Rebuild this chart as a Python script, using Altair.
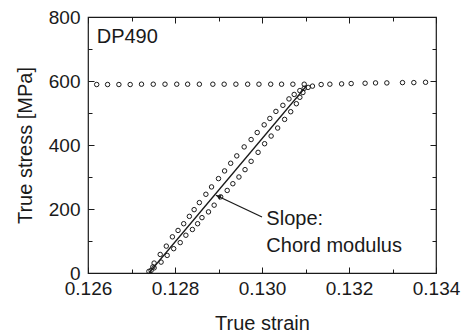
import altair as alt
import pandas as pd

# ---------------- data ----------------
flow_strain = [0.12620, 0.12645, 0.12671, 0.12697, 0.12723, 0.12750, 0.12777,
               0.12804, 0.12829, 0.12856, 0.12887, 0.12913, 0.12940, 0.12967,
               0.12993, 0.13020, 0.13045, 0.13071, 0.13097, 0.13116, 0.13136,
               0.13156, 0.13183, 0.13205, 0.13237, 0.13261, 0.13287, 0.13323,
               0.13349, 0.13376]
flow_stress = [589, 589, 589, 589, 590, 590, 590,
               590, 590, 590, 590, 590, 590, 590,
               590, 590, 590, 590, 590, 584, 589,
               590, 591, 592, 593, 594, 594, 595,
               595, 596]

upper_strain = [0.12740, 0.12749, 0.12752, 0.12766, 0.12780, 0.12794, 0.12807,
                0.12820, 0.12833, 0.12844, 0.12856, 0.12871, 0.12884, 0.12900,
                0.12914, 0.12928, 0.12942, 0.12959, 0.12975, 0.12989, 0.13005,
                0.13018, 0.13032, 0.13048, 0.13062, 0.13074, 0.13087, 0.13097]
upper_stress = [5, 19, 31, 58, 84, 113, 133,
                154, 177, 198, 220, 246, 269, 295,
                319, 343, 366, 394, 417, 439, 463,
                483, 505, 524, 544, 558, 570, 577]

lower_strain = [0.12745, 0.12752, 0.12768, 0.12782, 0.12797, 0.12812, 0.12825,
                0.12840, 0.12852, 0.12862, 0.12877, 0.12890, 0.12905, 0.12920,
                0.12933, 0.12947, 0.12961, 0.12975, 0.12991, 0.13006, 0.13021,
                0.13036, 0.13052, 0.13066, 0.13079, 0.13087, 0.13094, 0.13106]
lower_stress = [8, 16, 34, 55, 76, 95, 118,
                136, 154, 173, 191, 212, 238, 258,
                279, 300, 323, 349, 377, 404, 428,
                453, 480, 504, 529, 549, 564, 580]

chord_strain = [0.12740, 0.13103]
chord_stress = [0, 586]

x_major = [0.126, 0.128, 0.130, 0.132, 0.134]
x_minor = [0.127, 0.129, 0.131, 0.133]
y_major = [0, 200, 400, 600, 800]
y_minor = [100, 300, 500, 700]

label_texts = ["DP490", "Slope:", "Chord modulus"]
label_strain = [0.12620, 0.13010, 0.13010]
label_stress = [719, 149, 66]

arrow_tail = (0.13000, 175)
arrow_head = (0.12894, 243)
arrow_head_center = (0.12900, 239)

# ---------------- build tables ----------------
pts = pd.concat([
    pd.DataFrame({"strain": flow_strain, "stress": flow_stress}),
    pd.DataFrame({"strain": upper_strain, "stress": upper_stress}),
    pd.DataFrame({"strain": lower_strain, "stress": lower_stress}),
], ignore_index=True)
chord = pd.DataFrame({"strain": chord_strain, "stress": chord_stress})
labels = pd.DataFrame({"strain": label_strain, "stress": label_stress, "text": label_texts})
arrow = pd.DataFrame({"strain": [arrow_tail[0]], "stress": [arrow_tail[1]],
                      "strain2": [arrow_head[0]], "stress2": [arrow_head[1]]})
head = pd.DataFrame({"strain": [arrow_head_center[0]], "stress": [arrow_head_center[1]]})

FONT = "Liberation Sans"
INK = "#1a1a1a"
xs = alt.Scale(domain=[0.126, 0.134], nice=False, zero=False)
ys = alt.Scale(domain=[0, 800], nice=False, zero=False)

main = alt.Chart(pts).mark_point(
    shape="circle", filled=False, size=20, stroke=INK, strokeWidth=1, opacity=1
).encode(
    x=alt.X("strain:Q", scale=xs, axis=alt.Axis(
        orient="bottom", values=x_major, format=".3f", ticks=False, domain=False,
        grid=False, labelPadding=6, labelFontSize=19, labelFont=FONT, labelColor=INK,
        title="True strain", titleFontSize=20, titleFont=FONT, titleFontWeight="normal",
        titleColor=INK, titlePadding=15, labelFlush=False)),
    y=alt.Y("stress:Q", scale=ys, axis=alt.Axis(
        orient="left", values=y_major, format="d", ticks=False, domain=False,
        grid=False, labelPadding=8, labelFontSize=19, labelFont=FONT, labelColor=INK,
        title="True stress [MPa]", titleFontSize=20, titleFont=FONT,
        titleFontWeight="normal", titleColor=INK, titlePadding=13, labelFlush=False)),
)


def tick_layer(xorient, yorient, xvals, yvals, size):
    return alt.Chart(pts).mark_point(opacity=0, size=1).encode(
        x=alt.X("strain:Q", scale=xs, axis=alt.Axis(
            orient=xorient, values=xvals, offset=-size, tickSize=size, labels=False,
            domain=False, grid=False, title=None, tickColor=INK, tickWidth=1)),
        y=alt.Y("stress:Q", scale=ys, axis=alt.Axis(
            orient=yorient, values=yvals, offset=-size, tickSize=size, labels=False,
            domain=False, grid=False, title=None, tickColor=INK, tickWidth=1)),
    )


t1 = tick_layer("bottom", "left", x_major, y_major, 6)
t2 = tick_layer("bottom", "left", x_minor, y_minor, 4)
t3 = tick_layer("top", "right", x_major, y_major, 6)
t4 = tick_layer("top", "right", x_minor, y_minor, 4)

line = alt.Chart(chord).mark_line(color=INK, strokeWidth=1.3).encode(
    x=alt.X("strain:Q", scale=xs, axis=None),
    y=alt.Y("stress:Q", scale=ys, axis=None),
)

arr = alt.Chart(arrow).mark_rule(color=INK, strokeWidth=1.3).encode(
    x=alt.X("strain:Q", scale=xs, axis=None),
    y=alt.Y("stress:Q", scale=ys, axis=None),
    x2="strain2:Q", y2="stress2:Q",
)

arr_head = alt.Chart(head).mark_point(
    shape="triangle-up", filled=True, size=28, color=INK, angle=295, opacity=1
).encode(
    x=alt.X("strain:Q", scale=xs, axis=None),
    y=alt.Y("stress:Q", scale=ys, axis=None),
)

txt = alt.Chart(labels).mark_text(
    align="left", baseline="alphabetic", fontSize=20, font=FONT, color=INK
).encode(
    x=alt.X("strain:Q", scale=xs, axis=None),
    y=alt.Y("stress:Q", scale=ys, axis=None),
    text="text:N",
)

chart = alt.layer(main, t1, t2, t3, t4, line, arr, arr_head, txt).resolve_axis(
    x="independent", y="independent"
).properties(
    width=348, height=256,
    autosize=alt.AutoSizeParams(type="none"),
    padding={"left": 88, "top": 17, "right": 26, "bottom": 63},
    background="white",
).configure_view(stroke=INK, strokeWidth=1.2)

chart.save("out.html", embed_options={"renderer": "svg", "actions": False})
